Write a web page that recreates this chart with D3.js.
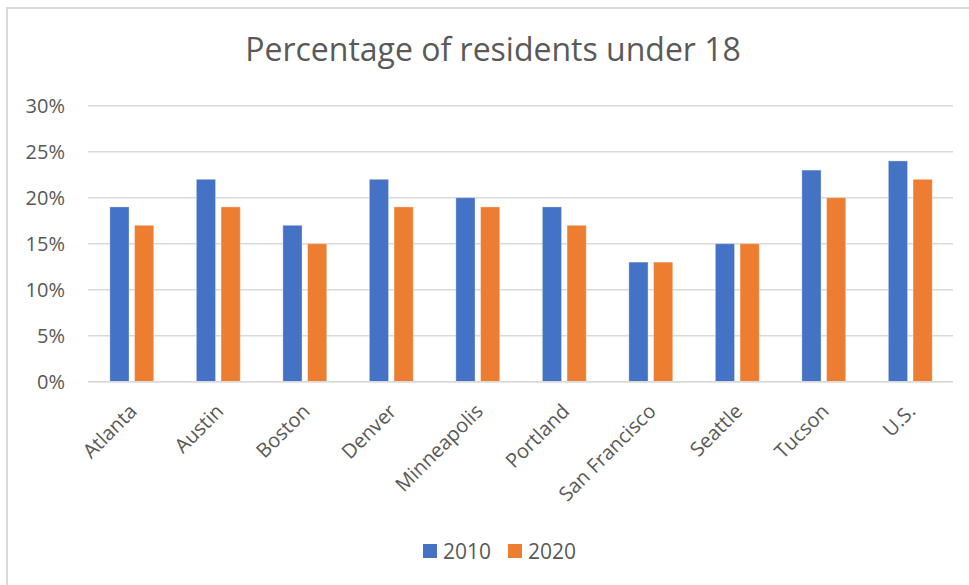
<!DOCTYPE html>
<html><head><meta charset="utf-8">
<script src="https://cdn.jsdelivr.net/npm/d3@7"></script>
<style>body{margin:0;background:#fff}svg{display:block}</style>
</head><body>
<svg id="c" width="969" height="585"></svg>
<script>
const categories = ["Atlanta","Austin","Boston","Denver","Minneapolis","Portland","San Francisco","Seattle","Tucson","U.S."];
const series2010 = [19,22,17,22,20,19,13,15,23,24];
const series2020 = [17,19,15,19,19,17,13,15,20,22];
const seriesNames = ["2010","2020"];
const yTicks = [0,5,10,15,20,25,30];
const colors = ["#4472C4","#ED7D31"];
const title = "Percentage of residents under 18";

(function(){
const font = "Open Sans, Noto Sans, sans-serif";
const svg = d3.select("#c");
svg.append("rect").attr("x",7).attr("y",8).attr("width",975).attr("height",600)
  .attr("fill","#fff").attr("stroke","#d9d9d9").attr("stroke-width",2);

const pL=88, pR=953, pT=105.7, pB=381.7;
const x = d3.scaleBand().domain(categories).range([pL,pR]);
const y = d3.scaleLinear().domain([0,30]).range([pB,pT]);

svg.append("text").attr("x",493).attr("y",61).attr("text-anchor","middle")
  .attr("font-family",font).attr("font-size",32).attr("fill","#595959").text(title);

const g = svg.append("g");
g.selectAll("line.grid").data(yTicks).join("line").attr("class","grid")
  .attr("x1",pL).attr("x2",pR).attr("y1",d=>y(d)).attr("y2",d=>y(d))
  .attr("stroke","#d9d9d9").attr("stroke-width",1.5);
g.selectAll("text.yt").data(yTicks).join("text").attr("class","yt")
  .attr("x",65).attr("y",d=>y(d)).attr("dy","0.36em").attr("text-anchor","end")
  .attr("font-family",font).attr("font-size",20).attr("fill","#595959").text(d=>d+"%");

const inner = d3.scaleBand().domain(seriesNames).range([-21.4,22.5]).paddingInner(0.223);
const data = [series2010, series2020];
data.forEach((vals,si)=>{
  g.selectAll("rect.s"+si).data(vals).join("rect").attr("class","s"+si)
    .attr("x",(d,i)=>x(categories[i])+x.bandwidth()/2+inner(seriesNames[si]))
    .attr("width",inner.bandwidth())
    .attr("y",d=>y(d)).attr("height",d=>pB-y(d))
    .attr("fill",colors[si]).attr("stroke","#fff").attr("stroke-opacity",0.35).attr("stroke-width",1);
});
g.append("line").attr("x1",pL).attr("x2",pR).attr("y1",pB).attr("y2",pB)
  .attr("stroke","#d9d9d9").attr("stroke-width",1.5);

g.selectAll("text.xl").data(categories).join("text").attr("class","xl")
  .attr("transform",d=>`translate(${x(d)+x.bandwidth()/2-3},${pB+21}) rotate(-45)`)
  .attr("text-anchor","end").attr("dy","0.7em")
  .attr("font-family",font).attr("font-size",20).attr("fill","#595959").text(d=>d);

const lg = svg.append("g").attr("transform","translate(423,551)");
const lx = [0,85];
seriesNames.forEach((n,i)=>{
  lg.append("rect").attr("x",lx[i]).attr("y",-7).attr("width",14).attr("height",14).attr("fill",colors[i]);
  lg.append("text").attr("x",lx[i]+20).attr("y",0).attr("dy","0.36em")
    .attr("font-family",font).attr("font-size",21).attr("fill","#595959").text(n);
});
})();
</script>
</body></html>
